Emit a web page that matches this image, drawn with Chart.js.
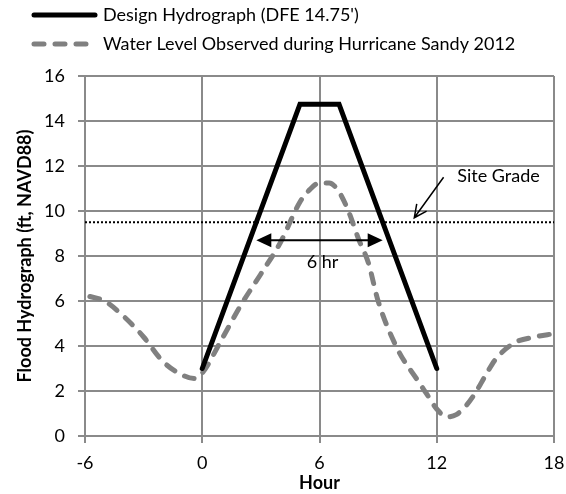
<!DOCTYPE html>
<html>
<head>
<meta charset="utf-8">
<script src="https://cdn.jsdelivr.net/npm/chart.js@4.4.1/dist/chart.umd.min.js"></script>
<style>
  html, body { margin: 0; padding: 0; background: #fff; }
</style>
</head>
<body>
<canvas id="hydro" width="566" height="494"></canvas>
<script>
// Design hydrograph (DFE 14.75')
const designHours = [0, 5, 7, 12];
const designFt = [3, 14.75, 14.75, 3];

// Water level observed during Hurricane Sandy 2012
const obsHours = [-5.75, -5, -4, -3, -2, -1, -0.4, 0, 1, 2, 3, 4, 5, 5.5, 6, 6.5, 7, 7.5, 8, 8.5, 9, 10, 11, 11.5, 12, 12.5, 13, 13.5, 14, 14.5, 15, 16, 17, 18];
const obsFt = [6.2, 6.0, 5.3, 4.4, 3.3, 2.7, 2.55, 2.8, 4.3, 5.85, 7.2, 8.6, 10.4, 10.95, 11.25, 11.25, 10.85, 9.95, 8.75, 7.7, 6.0, 3.85, 2.5, 1.85, 1.2, 0.85, 0.95, 1.35, 1.95, 2.7, 3.4, 4.15, 4.4, 4.55];

// Site grade elevation
const siteGradeHours = [-6, 18];
const siteGrade = 9.5;

// Axis ticks
const hourTicks = [-6, 0, 6, 12, 18];
const ftTicks = [0, 2, 4, 6, 8, 10, 12, 14, 16];

// Annotation text and anchors (hour, ft)
const durationLabel = '6 hr';
const durationArrowFt = 8.7;
const siteGradeLabel = 'Site Grade';
const siteGradeText = [13.05, 11.55];
const siteGradeLeader = [[12.35, 11.5], [10.85, 9.7]];

const FONT = 'Lato, "Noto Sans", sans-serif';
const FS = 18;

function pts(xs, ys) {
  return xs.map((h, i) => ({ x: h, y: ys[i] }));
}

// hour at which a segment crosses a given level
function crossing(h0, v0, h1, v1, level) {
  return h0 + (level - v0) / (v1 - v0) * (h1 - h0);
}

// line-style legend at the top left
const legendLines = {
  id: 'legendLines',
  afterDraw(chart) {
    const ctx = chart.ctx;
    [0, 1].forEach((di, i) => {
      const ds = chart.data.datasets[di];
      const y = 15 + i * 29;
      ctx.save();
      ctx.strokeStyle = ds.borderColor;
      ctx.lineWidth = ds.borderWidth;
      ctx.lineCap = 'round';
      ctx.setLineDash(ds.borderDash || []);
      ctx.beginPath();
      ctx.moveTo(34, y);
      ctx.lineTo(95, y);
      ctx.stroke();
      ctx.setLineDash([]);
      ctx.fillStyle = '#000';
      ctx.font = FS + 'px ' + FONT;
      ctx.textBaseline = 'middle';
      ctx.fillText(ds.label, 103, y);
      ctx.restore();
    });
  }
};

// duration arrow and site grade callout
const notes = {
  id: 'notes',
  afterDatasetsDraw(chart) {
    const { ctx, scales: { x, y } } = chart;
    const t0 = crossing(designHours[0], designFt[0], designHours[1], designFt[1], siteGrade);
    const t1 = crossing(designHours[2], designFt[2], designHours[3], designFt[3], siteGrade);
    const ay = y.getPixelForValue(durationArrowFt);
    const ax0 = x.getPixelForValue(t0);
    const ax1 = x.getPixelForValue(t1);
    ctx.save();
    ctx.strokeStyle = '#000';
    ctx.fillStyle = '#000';
    ctx.lineWidth = 2;
    ctx.beginPath();
    ctx.moveTo(ax0 + 10, ay);
    ctx.lineTo(ax1 - 10, ay);
    ctx.stroke();
    ctx.beginPath();
    ctx.moveTo(ax0, ay);
    ctx.lineTo(ax0 + 15, ay - 7);
    ctx.lineTo(ax0 + 15, ay + 7);
    ctx.closePath();
    ctx.fill();
    ctx.beginPath();
    ctx.moveTo(ax1, ay);
    ctx.lineTo(ax1 - 15, ay - 7);
    ctx.lineTo(ax1 - 15, ay + 7);
    ctx.closePath();
    ctx.fill();

    ctx.font = FS + 'px ' + FONT;
    ctx.textAlign = 'center';
    ctx.textBaseline = 'middle';
    ctx.fillText(durationLabel, (ax0 + ax1) / 2 + 3, ay + 22);

    ctx.textAlign = 'left';
    ctx.fillText(siteGradeLabel, x.getPixelForValue(siteGradeText[0]), y.getPixelForValue(siteGradeText[1]));

    // leader with open arrowhead
    const sx = x.getPixelForValue(siteGradeLeader[0][0]);
    const sy = y.getPixelForValue(siteGradeLeader[0][1]);
    const ex = x.getPixelForValue(siteGradeLeader[1][0]);
    const ey = y.getPixelForValue(siteGradeLeader[1][1]);
    const ang = Math.atan2(ey - sy, ex - sx);
    ctx.lineWidth = 1.5;
    ctx.beginPath();
    ctx.moveTo(sx, sy);
    ctx.lineTo(ex, ey);
    ctx.moveTo(ex - 14 * Math.cos(ang - 0.45), ey - 14 * Math.sin(ang - 0.45));
    ctx.lineTo(ex, ey);
    ctx.lineTo(ex - 14 * Math.cos(ang + 0.45), ey - 14 * Math.sin(ang + 0.45));
    ctx.stroke();
    ctx.restore();
  }
};

const gridColor = '#8a8a8a';

new Chart(document.getElementById('hydro').getContext('2d'), {
  type: 'line',
  data: {
    datasets: [
      {
        label: "Design Hydrograph (DFE 14.75')",
        data: pts(designHours, designFt),
        borderColor: '#000',
        borderWidth: 5,
        borderCapStyle: 'round',
        borderJoinStyle: 'miter',
        pointRadius: 0,
        tension: 0
      },
      {
        label: 'Water Level Observed during Hurricane Sandy 2012',
        data: pts(obsHours, obsFt),
        borderColor: '#808080',
        borderWidth: 5,
        borderDash: [10, 11],
        borderCapStyle: 'round',
        cubicInterpolationMode: 'monotone',
        pointRadius: 0
      },
      {
        label: 'Site Grade',
        data: pts(siteGradeHours, siteGradeHours.map(() => siteGrade)),
        borderColor: '#000',
        borderWidth: 2,
        borderDash: [2, 2],
        pointRadius: 0,
        tension: 0
      }
    ]
  },
  options: {
    responsive: false,
    animation: false,
    events: [],
    layout: { padding: { top: 76, right: 12, left: 0, bottom: 0 } },
    plugins: {
      legend: { display: false },
      tooltip: { enabled: false }
    },
    scales: {
      x: {
        type: 'linear',
        min: -6,
        max: 18,
        afterBuildTicks: (s) => { s.ticks = hourTicks.map(v => ({ value: v })); },
        afterFit: (s) => { s.height = 58; s.paddingRight = 0; },
        grid: { color: gridColor, lineWidth: 2, tickLength: 7, tickColor: gridColor },
        border: { color: gridColor, width: 2 },
        ticks: { color: '#000', padding: 9, font: { family: FONT, size: FS } },
        title: {
          display: true,
          text: 'Hour',
          color: '#000',
          padding: { top: 0, bottom: 0 },
          font: { family: FONT, size: FS, weight: 'bold' }
        }
      },
      y: {
        min: 0,
        max: 16,
        afterBuildTicks: (s) => { s.ticks = ftTicks.map(v => ({ value: v })); },
        afterFit: (s) => { s.width = 85; },
        grid: { color: gridColor, lineWidth: 2, tickLength: 7, tickColor: gridColor },
        border: { color: gridColor, width: 2 },
        ticks: { color: '#000', padding: 13, font: { family: FONT, size: FS } },
        title: {
          display: true,
          text: 'Flood Hydrograph (ft, NAVD88)',
          color: '#000',
          padding: { top: 14, bottom: 0 },
          font: { family: FONT, size: FS, weight: 'bold' }
        }
      }
    }
  },
  plugins: [legendLines, notes]
});
</script>
</body>
</html>
